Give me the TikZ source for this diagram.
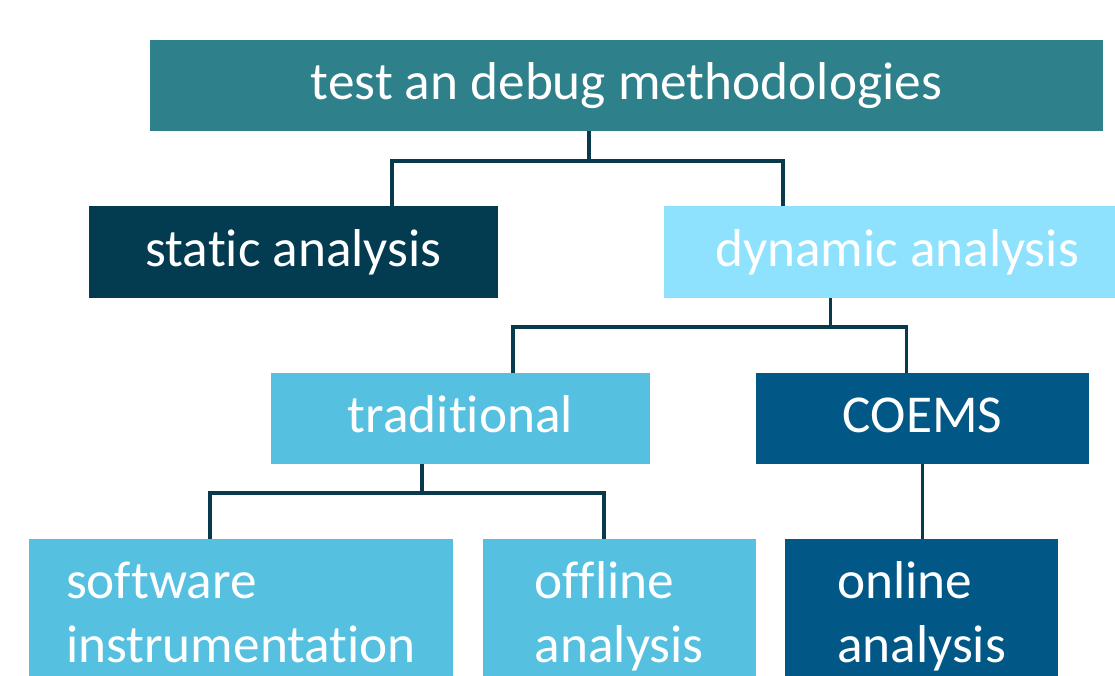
\documentclass[tikz,border=0pt]{standalone}
\usepackage{fontspec}
\setmainfont{Carlito}[Ligatures=NoCommon]
\definecolor{topcol}{RGB}{46,128,138}
\definecolor{statcol}{RGB}{3,59,80}
\definecolor{dyncol}{RGB}{143,226,254}
\definecolor{midcol}{RGB}{85,192,224}
\definecolor{darkcol}{RGB}{1,87,134}
\definecolor{linecol}{RGB}{9,58,76}
\begin{document}
\begin{tikzpicture}[x=1pt,y=-1pt,font=\fontsize{53.3}{64.7}\selectfont,
		box/.style={inner sep=0pt,text=white,text height=40pt,text depth=12pt,minimum height=91pt},
		twoline/.style={box,align=left,minimum height=155pt,text height=104.7pt},
		link/.style={line width=3.8pt,draw=linecol}]
	\useasboundingbox (0,0) rectangle (1115,676);
	% boxes, level by level
	\node[box,fill=topcol,minimum width=953pt] (top) at (626.5,85.5) {test an debug methodologies};
	\node[box,fill=statcol,minimum width=409pt] (static) at (293.5,252) {static analysis};
	\node[box,fill=dyncol,minimum width=466pt] (dynamic) at (897,252) {dynamic analysis};
	\node[box,fill=midcol,minimum width=379pt] (trad) at (460.5,418.5) {traditional};
	\node[box,fill=darkcol,minimum width=333pt] (coems) at (922.5,418.5) {COEMS};
	\node[twoline,fill=midcol,minimum width=424pt] (soft) at (241,616.5) {software\\instrumentation};
	\node[twoline,fill=midcol,minimum width=273pt] (offline) at (619.3,616.5) {offline\\analysis};
	\node[twoline,fill=darkcol,minimum width=273pt] (online) at (921.5,616.5) {online\\analysis};
	% bus corners
	\coordinate (j1) at (589,161); \coordinate (j1l) at (392,161); \coordinate (j1r) at (783,161);
	\coordinate (j2) at (830.5,327); \coordinate (j2l) at (513,327); \coordinate (j2r) at (906.5,327);
	\coordinate (j3) at (422,493); \coordinate (j3l) at (210,493); \coordinate (j3r) at (604,493);
	\draw[link] (top.south -| j1)--(j1) (static.north -| j1l)--(j1l)--(j1r)--(dynamic.north -| j1r);
	\draw[link] (dynamic.south -| j2)--(j2) (trad.north -| j2l)--(j2l)--(j2r)--(coems.north -| j2r);
	\draw[link] (trad.south -| j3)--(j3) (soft.north -| j3l)--(j3l)--(j3r)--(offline.north -| j3r);
	\draw[link] (coems.south)--(coems.south |- online.north);
\end{tikzpicture}
\end{document}
